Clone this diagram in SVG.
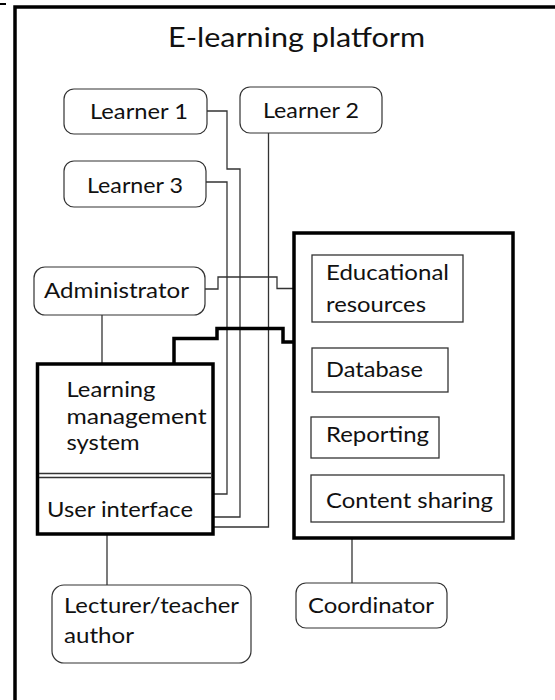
<svg xmlns="http://www.w3.org/2000/svg" width="555" height="700" viewBox="0 0 555 700">
<style>
text{font-family:Lato,"Open Sans","Liberation Sans",sans-serif;font-size:21px;fill:#111}
.t{font-size:27px}
.rn{fill:#fff;stroke:#333;stroke-width:1.2}
.bx{fill:#fff;stroke:#333;stroke-width:1.3}
.thick{fill:#fff;stroke:#000;stroke-width:3.5}
.c{fill:none;stroke:#333;stroke-width:1.3}
.ct{fill:none;stroke:#000;stroke-width:3.5}
</style>
<rect width="555" height="700" fill="#fff"/>
<g id="frame">
<line x1="0" y1="4" x2="6" y2="4" stroke="#000" stroke-width="2"/>
<path d="M15,700 V7 H555" fill="none" stroke="#000" stroke-width="3.5"/>
<text class="t" x="168" y="47" textLength="257" lengthAdjust="spacingAndGlyphs">E-learning platform</text>
</g>
<g id="connectors">
<path class="c" d="M206,111 H227 V169 H240 V517 H213"/>
<path class="c" d="M206,182 H227 V494 H213"/>
<path class="c" d="M268.5,133 V527 H213"/>
<path class="c" d="M205,289 H218 V277 H277 V288.5 H294"/>
<path class="c" d="M102,315 V364"/>
<path class="ct" d="M174,364 V338.5 H217 V328.5 H283 V342 H294"/>
<path class="c" d="M107,534 V585"/>
<path class="c" d="M352,538 V583"/>
</g>
<g id="learner1">
<rect class="rn" x="64" y="89" width="143" height="45" rx="10"/>
<text x="90" y="119" textLength="98" lengthAdjust="spacingAndGlyphs">Learner 1</text>
</g>
<g id="learner2">
<rect class="rn" x="240" y="87" width="142" height="46" rx="10"/>
<text x="263" y="118" textLength="96" lengthAdjust="spacingAndGlyphs">Learner 2</text>
</g>
<g id="learner3">
<rect class="rn" x="64" y="161" width="142" height="46" rx="10"/>
<text x="87" y="193" textLength="96" lengthAdjust="spacingAndGlyphs">Learner 3</text>
</g>
<g id="administrator">
<rect class="rn" x="34" y="267" width="171" height="48" rx="11"/>
<text x="44" y="298" textLength="145" lengthAdjust="spacingAndGlyphs">Administrator</text>
</g>
<g id="lms">
<rect class="thick" x="37.5" y="364" width="175.5" height="170"/>
<line x1="39" y1="473.5" x2="211" y2="473.5" stroke="#333" stroke-width="1.3"/>
<line x1="39" y1="477.5" x2="211" y2="477.5" stroke="#333" stroke-width="1.3"/>
<text x="66.5" y="397" textLength="89" lengthAdjust="spacingAndGlyphs">Learning</text>
<text x="66.5" y="424" textLength="140" lengthAdjust="spacingAndGlyphs">management</text>
<text x="66.5" y="450" textLength="73" lengthAdjust="spacingAndGlyphs">system</text>
<text x="47" y="517" textLength="146" lengthAdjust="spacingAndGlyphs">User interface</text>
</g>
<g id="resources-box">
<rect class="thick" x="294" y="233" width="219" height="305"/>
</g>
<g id="educational">
<rect class="bx" x="312" y="255" width="151" height="67"/>
<text x="326" y="280" textLength="123" lengthAdjust="spacingAndGlyphs">Educational</text>
<text x="326" y="312" textLength="100" lengthAdjust="spacingAndGlyphs">resources</text>
</g>
<g id="database">
<rect class="bx" x="312" y="348" width="136" height="44"/>
<text x="326" y="377" textLength="97" lengthAdjust="spacingAndGlyphs">Database</text>
</g>
<g id="reporting">
<rect class="bx" x="311" y="417" width="128" height="41"/>
<text x="326" y="442" textLength="103" lengthAdjust="spacingAndGlyphs">Reporting</text>
</g>
<g id="content-sharing">
<rect class="bx" x="311" y="475" width="193" height="47"/>
<text x="326" y="508" textLength="167" lengthAdjust="spacingAndGlyphs">Content sharing</text>
</g>
<g id="coordinator">
<rect class="rn" x="296" y="583" width="151" height="45" rx="10"/>
<text x="308" y="613" textLength="126" lengthAdjust="spacingAndGlyphs">Coordinator</text>
</g>
<g id="lecturer">
<rect class="rn" x="52" y="585" width="199" height="78" rx="12"/>
<text x="64" y="613" textLength="175" lengthAdjust="spacingAndGlyphs">Lecturer/teacher</text>
<text x="64" y="643" textLength="70" lengthAdjust="spacingAndGlyphs">author</text>
</g>
</svg>
